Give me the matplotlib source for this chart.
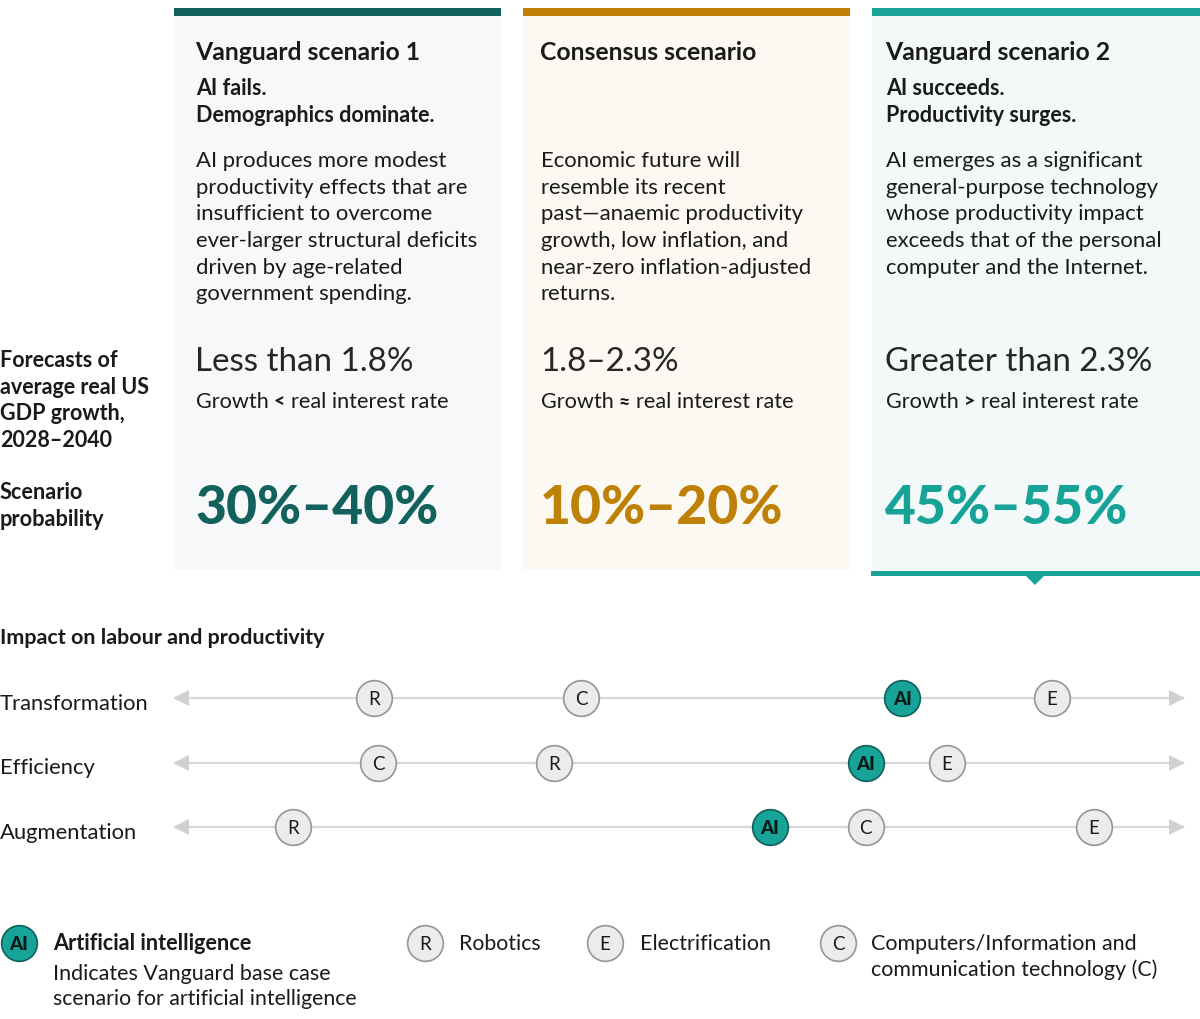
import matplotlib
matplotlib.use("Agg")
import matplotlib.pyplot as plt
from matplotlib.patches import Rectangle, Polygon

plt.rcParams["font.family"] = ["Lato", "DejaVu Sans"]

INK = "#1a1a1a"
DARK_TEAL = "#12615c"
GOLD = "#bf8006"
TEAL = "#18a399"

# scenario cards
titles = ["Vanguard scenario 1", "Consensus scenario", "Vanguard scenario 2"]
subtitles = [["AI fails.", "Demographics dominate."], [], ["AI succeeds.", "Productivity surges."]]
bodies = [
    ["AI produces more modest", "productivity effects that are", "insufficient to overcome",
     "ever-larger structural deficits", "driven by age-related", "government spending."],
    ["Economic future will", "resemble its recent", "past\u2014anaemic productivity",
     "growth, low inflation, and", "near-zero inflation-adjusted", "returns."],
    ["AI emerges as a significant", "general-purpose technology", "whose productivity impact",
     "exceeds that of the personal", "computer and the Internet."],
]
forecasts = ["Less than 1.8%", "1.8\u20132.3%", "Greater than 2.3%"]
growth_signs = ["<", "\u2248", ">"]
probabilities = ["30%\u201340%", "10%\u201320%", "45%\u201355%"]

# impact rows, position along the line on a 0-100 scale
rows = ["Transformation", "Efficiency", "Augmentation"]
tech_labels = ["R", "C", "AI", "E"]
transformation = [19.8, 40.3, 72.1, 86.9]
efficiency = [37.6, 20.2, 68.5, 76.5]
augmentation = [11.8, 68.5, 59.0, 91.1]

fig = plt.figure(figsize=(12, 10.19), dpi=100)
ax = fig.add_axes([0, 0, 1, 1])
ax.set_xlim(0, 1200)
ax.set_ylim(1019, 0)
ax.axis("off")


def txt(x, y, s, size=15, weight="normal", color=INK, **kw):
    ax.text(x, y, s, fontsize=size, fontweight=weight, color=color, va="baseline", **kw)


def bubble(axis, x, y, label):
    if label == "AI":
        axis.scatter([x], [y], s=660, color=TEAL, edgecolor="#0f5f5a", linewidth=1.2, zorder=3, clip_on=False)
        axis.text(x, y, label, fontsize=13.5, fontweight="black", color="#061a18",
                  ha="center", va="center_baseline", zorder=4)
    else:
        axis.scatter([x], [y], s=660, color="#ececec", edgecolor="#959595", linewidth=1.2, zorder=3, clip_on=False)
        axis.text(x, y, label, fontsize=13.5, color=INK, ha="center", va="center_baseline", zorder=4)


# cards
card_x = [174, 523, 872]
card_w = [327, 327, 328]
card_bg = ["#f6f8fa", "#fcf9f3", "#f3f9f9"]
card_col = [DARK_TEAL, GOLD, TEAL]
text_x = [196, 541, 886]

for i in range(3):
    ax.add_patch(Rectangle((card_x[i], 8), card_w[i], 562, color=card_bg[i], lw=0))
    ax.add_patch(Rectangle((card_x[i], 8), card_w[i], 8, color=card_col[i], lw=0))
    txt(text_x[i] - 0.5, 60, titles[i], 17.8, "bold")
    for j, line in enumerate(subtitles[i]):
        txt(text_x[i], 95 + j * 27, line, 15.5, "bold")
    for j, line in enumerate(bodies[i]):
        txt(text_x[i], 167 + j * 26.7, line, 15.9)
    txt(text_x[i] - 1, 371, forecasts[i], 23.9, color="#262626")
    txt(text_x[i], 408, "Growth", 15.6)
    txt(text_x[i] + 78, 408, growth_signs[i], 14, "black")
    txt(text_x[i] + 95, 408, "real interest rate", 15.6)
    txt(text_x[i] - 1, 523.5, probabilities[i], 38.4, "black", card_col[i])

ax.add_patch(Rectangle((871, 571), 329, 5, color=TEAL, lw=0))
ax.add_patch(Polygon([(1026, 576), (1044, 576), (1035, 585)], color=TEAL, lw=0))

# left labels
for y, line in zip([367, 394, 420, 447], ["Forecasts of", "average real US", "GDP growth,", "2028\u20132040"]):
    txt(0, y, line, 15.5, "bold")
for y, line in zip([499, 526], ["Scenario", "probability"]):
    txt(0, y, line, 15.6, "bold")

txt(0, 644, "Impact on labour and productivity", 15.45, "bold")

# impact lines
line_ax = fig.add_axes([174 / 1200, 1 - 860 / 1019, 1010 / 1200, 195 / 1019])
line_ax.set_xlim(0, 100)
line_ax.set_ylim(2 + 33 / 64.5, -33 / 64.5)
line_ax.axis("off")
for k, (name, vals) in enumerate(zip(rows, [transformation, efficiency, augmentation])):
    line_ax.plot([0, 100], [k, k], color="#d8d8d8", lw=1.6, zorder=1)
    line_ax.plot([0.65], [k], marker="<", color="#d0d0d0", ms=11, mew=0, zorder=2)
    line_ax.plot([99.35], [k], marker=">", color="#d0d0d0", ms=11, mew=0, zorder=2)
    for label, v in zip(tech_labels, vals):
        bubble(line_ax, v, k, label)
    txt(0, [710, 774, 839][k], name, 15.8)

# legend
bubble(ax, 19, 943, "AI")
bubble(ax, 425, 943, "R")
bubble(ax, 605, 943, "E")
bubble(ax, 838, 943, "C")
txt(53, 950, "Artificial intelligence", 15.6, "bold")
txt(53, 980, "Indicates Vanguard base case", 15.5)
txt(53, 1005, "scenario for artificial intelligence", 15.3)
txt(459, 950, "Robotics", 15.3)
txt(640, 950, "Electrification", 15.5)
txt(871, 950, "Computers/Information and", 15.5)
txt(871, 976, "communication technology (C)", 15.4)

plt.savefig("out.png", dpi=100)
plt.close()
